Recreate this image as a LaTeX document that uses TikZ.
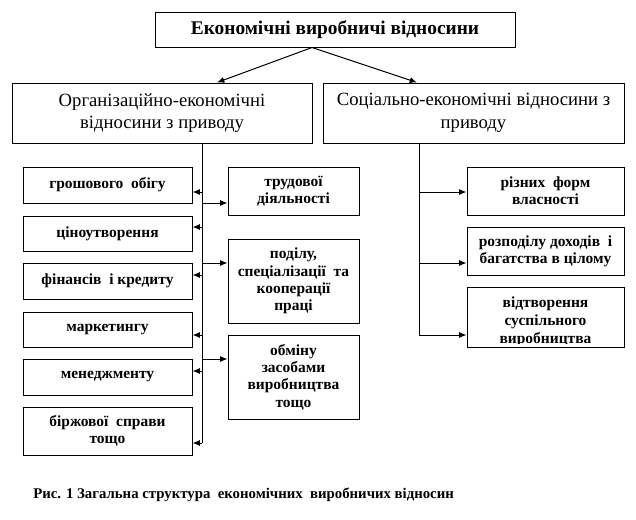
\documentclass[tikz,border=0pt]{standalone}
\usepackage{fontspec}
\setmainfont{Liberation Serif}
\usetikzlibrary{arrows.meta,calc}

\tikzset{
  box/.style={draw, line width=0.75pt, align=center, inner sep=0pt,
    font=\fontsize{11.6}{13}\selectfont\bfseries},
  smalltxt/.style={align=center, inner sep=0pt, font=\fontsize{11.6}{13.5}\selectfont\bfseries},
  capt/.style={inner sep=0pt, font=\fontsize{11.1}{13}\selectfont\bfseries},
  arr/.style={-{Latex[length=5.5pt,width=4.5pt]}, line width=0.75pt},
  spine/.style={line width=0.75pt},
}

\begin{document}
\begin{tikzpicture}[x=0.75pt,y=-0.75pt]
\useasboundingbox (0,0) rectangle (636,519);

\node[box, minimum width=270pt, minimum height=26.25pt,
  font=\fontsize{14.5}{16}\selectfont\bfseries] (econ) at (335,29.5) {Економічні виробничі відносини};
\node[box, minimum width=225pt, minimum height=45pt,
  font=\fontsize{14}{17}\selectfont] (org) at (162,113) {Організаційно-економічні\\відносини з приводу};
\node[box, minimum width=225.75pt, minimum height=45pt,
  font=\fontsize{14}{17}\selectfont] (soc) at (473.5,113) {Соціально-економічні відносини з\\приводу};

\coordinate (fork) at ($(econ.south)+(-23,0)$);
\draw[arr] (fork) -- ($(org.north)+(55,0)$);
\draw[arr] (fork) -- ($(soc.north)+(-56.5,0)$);

% left column
\node[box, minimum width=126.75pt, minimum height=27pt] (g1) at (107.5,185) {грошового\ \ обігу};
\node[box, minimum width=126.75pt, minimum height=26.25pt] (g2) at (107.5,233.5) {ціноутворення};
\node[box, minimum width=126.75pt, minimum height=27pt] (g3) at (107.5,281) {фінансів\ \ і кредиту};
\node[box, minimum width=126.75pt, minimum height=26.25pt] (g4) at (107.5,329.5) {маркетингу};
\node[box, minimum width=126.75pt, minimum height=27pt] (g5) at (107.5,377) {менеджменту};
\node[box, minimum width=126.75pt, minimum height=36pt] (g6) at (107.5,431) {біржової\ \ справи\\тощо};

% middle column
\node[box, minimum width=98.25pt, minimum height=36pt] (t1) at (293.5,191) {трудової\\діяльності};
\node[box, minimum width=98.25pt, minimum height=63pt] (t2) at (293.5,281) {поділу,\\спеціалізації\ \ та\\кооперації\\праці};
\node[box, minimum width=98.25pt, minimum height=63pt] (t3) at (293.5,377) {обміну\\засобами\\виробництва\\тощо};

% right column
\node[box, minimum width=117.75pt, minimum height=36pt] (r1) at (545.5,191) {різних\ \ форм\\власності};
\node[box, minimum width=117.75pt, minimum height=36pt] (r2) at (545.5,251) {розподілу доходів\ \ і\\багатства в цілому};
\node[box, minimum width=117.75pt, minimum height=45pt,
  path picture={
    \clip ($(path picture bounding box.south west)+(0,-4)$) rectangle (path picture bounding box.north east);
    \node[smalltxt] at ($(path picture bounding box.center)+(0,5)$)
      {відтворення\\суспільного\\виробництва};}] (r3) at (545.5,317) {};

% spines
\coordinate (sl) at ($(org.south)+(40,0)$);
\coordinate (sr) at ($(soc.south)+(-54.5,0)$);
\draw[spine] (sl) -- ([yshift=-9pt]g6.east -| sl);
\draw[spine] (sr) -- ([yshift=-13.5pt]r3.west -| sr);

\draw[arr] ([yshift=-5.25pt]g1.east -| sl) -- ([yshift=-5.25pt]g1.east);
\draw[arr] ([yshift=4.875pt]g2.east -| sl) -- ([yshift=4.875pt]g2.east);
\draw[arr] ([yshift=4.5pt]g3.east -| sl) -- ([yshift=4.5pt]g3.east);
\draw[arr] ([yshift=-4.125pt]g4.east -| sl) -- ([yshift=-4.125pt]g4.east);
\draw[arr] ([yshift=4.5pt]g5.east -| sl) -- ([yshift=4.5pt]g5.east);
\draw[arr] ([yshift=-9pt]g6.east -| sl) -- ([yshift=-9pt]g6.east);

\draw[arr] ([yshift=-9pt]t1.west -| sl) -- ([yshift=-9pt]t1.west);
\draw[arr] ([yshift=13.5pt]t2.west -| sl) -- ([yshift=13.5pt]t2.west);
\draw[arr] ([yshift=13.5pt]t3.west -| sl) -- ([yshift=13.5pt]t3.west);

\draw[arr] ([yshift=-0.75pt]r1.west -| sr) -- ([yshift=-0.75pt]r1.west);
\draw[arr] ([yshift=-9pt]r2.west -| sr) -- ([yshift=-9pt]r2.west);
\draw[arr] ([yshift=-13.5pt]r3.west -| sr) -- ([yshift=-13.5pt]r3.west);

\node[capt, anchor=west] (cap) at (33,495) {Рис. 1 Загальна структура\ \ економічних\ \ виробничих відносин};
\end{tikzpicture}
\end{document}
